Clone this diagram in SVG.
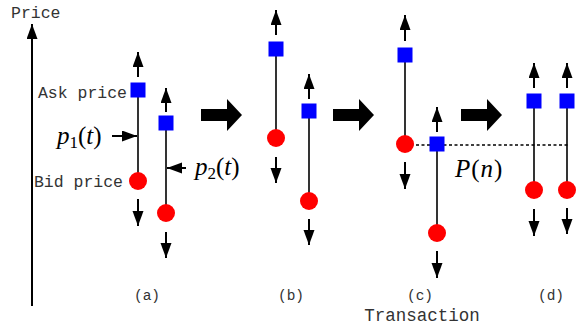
<svg xmlns="http://www.w3.org/2000/svg" width="580" height="331" viewBox="0 0 580 331">
<style>
.mono{font-family:"Liberation Mono","DejaVu Sans Mono",monospace;fill:#333;}
.lbl{font-size:16.5px;}
.cap{font-size:14.5px;text-anchor:middle;}
.math{font-family:"Liberation Serif","DejaVu Serif",serif;font-size:25px;fill:#000;}
.sub{font-size:17px;}
.it{font-style:italic;}
.bar{stroke:#000;stroke-width:1.6;fill:none;}
.arr{stroke:#000;stroke-width:2;fill:none;marker-end:url(#ah);}
.ask{fill:#0000ff;}
.bid{fill:#ff0000;}
.big{fill:#000;}
</style>
<defs>
<marker id="ah" markerUnits="userSpaceOnUse" markerWidth="16" markerHeight="12" refX="15" refY="5.5" orient="auto">
<path d="M0,0 L15,5.5 L0,11 z" fill="#000"/>
</marker>
</defs>

<g id="axis">
<line class="arr" x1="32" y1="306" x2="32" y2="24"/>
<text class="mono lbl" x="11" y="18">Price</text>
</g>

<g id="connectors">
<line class="arr" x1="138" y1="77" x2="138" y2="52"/>
<line class="arr" x1="138" y1="199" x2="138" y2="226"/>
<line class="arr" x1="166" y1="112" x2="166" y2="88"/>
<line class="arr" x1="166" y1="232" x2="166" y2="258"/>
<line class="arr" x1="276" y1="35" x2="276" y2="10"/>
<line class="arr" x1="276" y1="157" x2="276" y2="183"/>
<line class="arr" x1="309" y1="99" x2="309" y2="74"/>
<line class="arr" x1="309" y1="219" x2="309" y2="245"/>
<line class="arr" x1="405" y1="41" x2="405" y2="15"/>
<line class="arr" x1="405" y1="162" x2="405" y2="189"/>
<line class="arr" x1="437" y1="132" x2="437" y2="107"/>
<line class="arr" x1="437" y1="251" x2="437" y2="278"/>
<line class="arr" x1="534" y1="88" x2="534" y2="63"/>
<line class="arr" x1="534" y1="209" x2="534" y2="236"/>
<line class="arr" x1="567" y1="88" x2="567" y2="63"/>
<line class="arr" x1="567" y1="208" x2="567" y2="234"/>
<line class="arr" x1="112" y1="136" x2="137" y2="136"/>
<line class="arr" x1="186" y1="168" x2="167" y2="168"/>
<line x1="405" y1="145" x2="570" y2="145" stroke="#000" stroke-width="1.3" stroke-dasharray="3,2.5"/>
<path class="big" d="M201,109 H227 V99 L242,115 L227,131 V121 H201 z"/>
<path class="big" d="M333,109 H359 V99 L374,115 L359,131 V121 H333 z"/>
<path class="big" d="M461,109 H487 V99 L502,115 L487,131 V121 H461 z"/>
</g>

<g id="panel-a">
<line class="bar" x1="138" y1="90" x2="138" y2="181"/>
<rect class="ask" x="130.5" y="82.5" width="15" height="15"/>
<circle class="bid" cx="138" cy="181" r="9"/>
<line class="bar" x1="166" y1="123" x2="166" y2="213"/>
<rect class="ask" x="158.5" y="115.5" width="15" height="15"/>
<circle class="bid" cx="166" cy="213" r="9"/>
<text class="mono lbl" x="127" y="98" text-anchor="end">Ask price</text>
<text class="mono lbl" x="123" y="187" text-anchor="end">Bid price</text>
<text class="math" x="57" y="144"><tspan class="it">p</tspan><tspan class="sub" dy="4">1</tspan><tspan dy="-4">(</tspan><tspan class="it">t</tspan>)</text>
<text class="math" x="195" y="175"><tspan class="it">p</tspan><tspan class="sub" dy="4">2</tspan><tspan dy="-4">(</tspan><tspan class="it">t</tspan>)</text>
<text class="mono cap" x="147" y="300">(a)</text>
</g>

<g id="panel-b">
<line class="bar" x1="276" y1="49" x2="276" y2="138"/>
<rect class="ask" x="268.5" y="41.5" width="15" height="15"/>
<circle class="bid" cx="276" cy="138" r="9"/>
<line class="bar" x1="309" y1="111" x2="309" y2="201"/>
<rect class="ask" x="301.5" y="103.5" width="15" height="15"/>
<circle class="bid" cx="309" cy="201" r="9"/>
<text class="mono cap" x="291" y="300">(b)</text>
</g>

<g id="panel-c">
<line class="bar" x1="405" y1="55" x2="405" y2="144"/>
<rect class="ask" x="397.5" y="47.5" width="15" height="15"/>
<circle class="bid" cx="405" cy="144" r="9"/>
<line class="bar" x1="437" y1="144" x2="437" y2="233"/>
<rect class="ask" x="429.5" y="136.5" width="15" height="15"/>
<circle class="bid" cx="437" cy="233" r="9"/>
<text class="math" x="455" y="177" letter-spacing="1"><tspan class="it">P</tspan>(<tspan class="it">n</tspan>)</text>
<text class="mono cap" x="420" y="300">(c)</text>
<text class="mono" x="422" y="321" font-size="17.5" text-anchor="middle">Transaction</text>
</g>

<g id="panel-d">
<line class="bar" x1="534" y1="101" x2="534" y2="190"/>
<rect class="ask" x="526.5" y="93.5" width="15" height="15"/>
<circle class="bid" cx="534" cy="190" r="9"/>
<line class="bar" x1="567" y1="101" x2="567" y2="190"/>
<rect class="ask" x="559.5" y="93.5" width="15" height="15"/>
<circle class="bid" cx="567" cy="190" r="9"/>
<text class="mono cap" x="551" y="300">(d)</text>
</g>
</svg>
